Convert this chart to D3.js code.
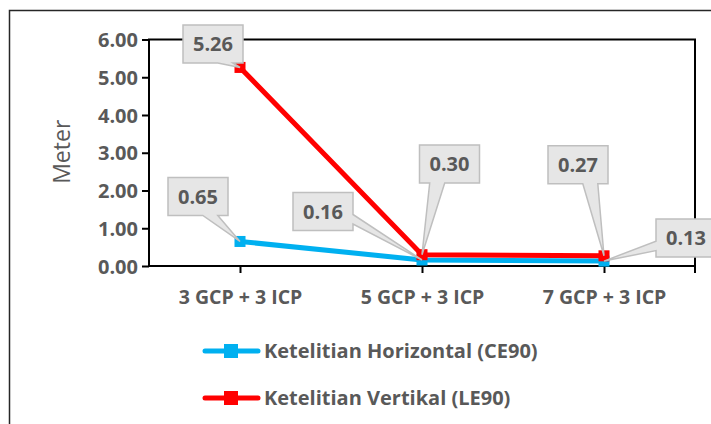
<!DOCTYPE html>
<html>
<head>
<meta charset="utf-8">
<script src="https://cdn.jsdelivr.net/npm/d3@7"></script>
<style>
  body { margin: 0; background: #fff; }
  svg text { font-family: "Open Sans", sans-serif; }
</style>
</head>
<body>
<svg id="chart" width="711" height="424"></svg>
<script>
// data
const categories = ['3 GCP + 3 ICP', '5 GCP + 3 ICP', '7 GCP + 3 ICP'];
const horizontal = [0.65, 0.16, 0.13];
const vertikal = [5.26, 0.30, 0.27];
const seriesNames = ['Ketelitian Horizontal (CE90)', 'Ketelitian Vertikal (LE90)'];
const yTicks = [0, 1, 2, 3, 4, 5, 6];

// callout box offsets (box centre relative to its point)
const labelOffsets = [
  [[-42, -45], [-99, -48.5], [82, -23]],
  [[-27, -23.5], [27.5, -90.7], [-26, -91]]
];

const colors = ['#00b0f0', '#ff0000'];
const textColor = '#595959';

const svg = d3.select('#chart');
const plot = {left: 149, right: 695, top: 39.5, bottom: 266};

const x = d3.scaleBand()
  .domain(categories)
  .range([plot.left, plot.right]);
const cx = d => x(d) + x.bandwidth() / 2;

const y = d3.scaleLinear()
  .domain([0, 6])
  .range([plot.bottom, plot.top]);

// outer chart border
svg.append('rect')
  .attr('x', 9.5).attr('y', 10.5)
  .attr('width', 720).attr('height', 440)
  .attr('fill', 'none')
  .attr('stroke', '#262626')
  .attr('stroke-width', 1.5);

// y axis
const yAxis = svg.append('g')
  .attr('transform', `translate(${plot.left},0)`)
  .call(d3.axisLeft(y).tickValues(yTicks).tickSize(7).tickPadding(4).tickFormat(d3.format('.2f')));
yAxis.select('.domain').remove();
yAxis.selectAll('line').attr('stroke', '#000').attr('stroke-width', 2);
yAxis.selectAll('text')
  .attr('fill', textColor)
  .style('font-size', '20px')
  .style('font-weight', 700)
  .attr('dy', '0.36em');

// x axis ticks at category centres
const xAxis = svg.append('g')
  .attr('transform', `translate(0,${plot.bottom})`)
  .call(d3.axisBottom(d3.scalePoint().domain(categories).range([cx(categories[0]), cx(categories[2])]))
    .tickSize(7).tickPadding(17));
xAxis.select('.domain').remove();
xAxis.selectAll('line').attr('stroke', '#000').attr('stroke-width', 2);
xAxis.selectAll('text')
  .attr('fill', textColor)
  .style('font-size', '19.5px')
  .style('font-weight', 700);

// plot frame
svg.append('rect')
  .attr('x', plot.left).attr('y', plot.top)
  .attr('width', plot.right - plot.left)
  .attr('height', plot.bottom - plot.top)
  .attr('fill', 'none')
  .attr('stroke', '#000')
  .attr('stroke-width', 2);
svg.append('line')
  .attr('x1', plot.right).attr('x2', plot.right)
  .attr('y1', plot.bottom).attr('y2', plot.bottom + 7)
  .attr('stroke', '#000').attr('stroke-width', 2);

// y title
svg.append('text')
  .attr('transform', `translate(70,${(plot.top + plot.bottom) / 2 - 1}) rotate(-90)`)
  .attr('text-anchor', 'middle')
  .attr('fill', textColor)
  .style('font-size', '23px')
  .text('Meter');

// series
const series = [horizontal, vertikal];
const line = d3.line()
  .x((d, i) => cx(categories[i]))
  .y(d => y(d));
const ms = 11;

series.forEach((vals, s) => {
  svg.append('path')
    .attr('d', line(vals))
    .attr('fill', 'none')
    .attr('stroke', colors[s])
    .attr('stroke-width', 5)
    .attr('stroke-linejoin', 'round');
  svg.selectAll(null)
    .data(vals)
    .join('rect')
    .attr('x', (d, i) => cx(categories[i]) - ms / 2)
    .attr('y', d => y(d) - ms / 2)
    .attr('width', ms).attr('height', ms)
    .attr('fill', colors[s]);
});

// callouts
const bw = 60, bh = 38;
const callout = (px, py, bx, by) => {
  // bx,by = box centre; returns path of box with wedge
  const x0 = bx - bw / 2, x1 = bx + bw / 2, y0 = by - bh / 2, y1 = by + bh / 2;
  const dx = (px - bx) / (bw / 2), dy = (py - by) / (bh / 2);
  const p = d3.path();
  p.moveTo(x0, y0);
  if (Math.abs(dy) >= Math.abs(dx)) {
    // wedge on bottom edge
    const a = px > bx ? x0 + bw * 0.58 : x0 + bw * 0.17;
    const b = px > bx ? x0 + bw * 0.83 : x0 + bw * 0.42;
    p.lineTo(x1, y0); p.lineTo(x1, y1);
    p.lineTo(b, y1); p.lineTo(px, py); p.lineTo(a, y1);
    p.lineTo(x0, y1);
  } else if (dx > 0) {
    const a = y0 + bh * 0.58, b = y0 + bh * 0.83;
    p.lineTo(x1, y0); p.lineTo(x1, a); p.lineTo(px, py); p.lineTo(x1, b);
    p.lineTo(x1, y1); p.lineTo(x0, y1);
  } else {
    const a = y0 + bh * 0.58, b = y0 + bh * 0.83;
    p.lineTo(x1, y0); p.lineTo(x1, y1); p.lineTo(x0, y1);
    p.lineTo(x0, b); p.lineTo(px, py); p.lineTo(x0, a);
  }
  p.closePath();
  return p.toString();
};

series.forEach((vals, s) => {
  vals.forEach((v, i) => {
    const px = cx(categories[i]), py = y(v);
    const bx = px + labelOffsets[s][i][0], by = py + labelOffsets[s][i][1];
    svg.append('path')
      .attr('d', callout(px, py, bx, by))
      .attr('fill', '#e6e6e6')
      .attr('stroke', '#bfbfbf')
      .attr('stroke-width', 1.5);
    svg.append('text')
      .attr('x', bx).attr('y', by)
      .attr('dy', '0.36em')
      .attr('text-anchor', 'middle')
      .attr('fill', textColor)
      .style('font-size', '20px')
      .style('font-weight', 700)
      .text(d3.format('.2f')(v));
  });
});

// legend
const legend = svg.append('g');
seriesNames.forEach((name, s) => {
  const ly = 351 + s * 47;
  legend.append('line')
    .attr('x1', 205).attr('x2', 258)
    .attr('y1', ly).attr('y2', ly)
    .attr('stroke', colors[s])
    .attr('stroke-width', 5)
    .attr('stroke-linecap', 'round');
  legend.append('rect')
    .attr('x', 231 - 7).attr('y', ly - 7)
    .attr('width', 14).attr('height', 14)
    .attr('fill', colors[s]);
  legend.append('text')
    .attr('x', 264).attr('y', ly)
    .attr('dy', '0.36em')
    .attr('fill', textColor)
    .style('font-size', '20px')
    .style('font-weight', 700)
    .text(name);
});
</script>
</body>
</html>
